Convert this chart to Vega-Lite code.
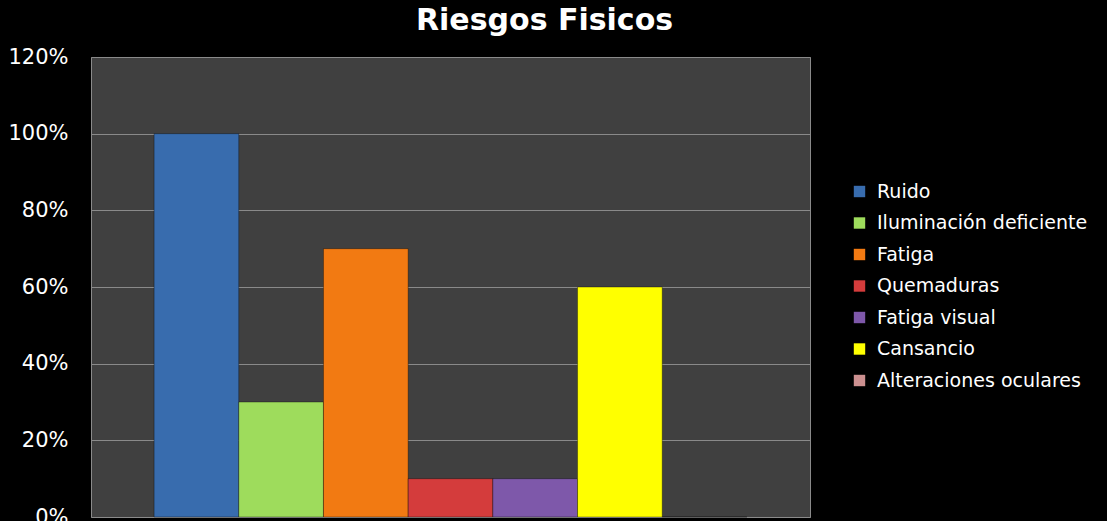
{
  "$schema": "https://vega.github.io/schema/vega-lite/v6.json",
  "width": 719,
  "height": 460,
  "autosize": {"type": "none"},
  "padding": {"left": 91, "top": 57, "right": 297, "bottom": 4},
  "background": "#000000",
  "title": {
    "text": "Riesgos Fisicos",
    "font": "DejaVu Sans",
    "fontSize": 30,
    "fontWeight": "bold",
    "color": "#ffffff",
    "anchor": "start",
    "dx": 408,
    "offset": -14,
    "baseline": "alphabetic"
  },
  "data": {
    "values": [
      {"riesgo": "Ruido", "valor": 1.0},
      {"riesgo": "Iluminación deficiente", "valor": 0.3},
      {"riesgo": "Fatiga", "valor": 0.7},
      {"riesgo": "Quemaduras", "valor": 0.1},
      {"riesgo": "Fatiga visual", "valor": 0.1},
      {"riesgo": "Cansancio", "valor": 0.6},
      {"riesgo": "Alteraciones oculares", "valor": 0.0}
    ]
  },
  "mark": {"type": "bar", "stroke": "#000000", "strokeOpacity": 0.35, "strokeWidth": 1},
  "encoding": {
    "x": {
      "field": "riesgo",
      "type": "nominal",
      "sort": null,
      "scale": {"paddingInner": 0, "paddingOuter": 0.745},
      "axis": null
    },
    "y": {
      "field": "valor",
      "type": "quantitative",
      "scale": {"domain": [0, 1.2], "nice": false},
      "axis": {
        "format": ".0%",
        "values": [0, 0.2, 0.4, 0.6, 0.8, 1.0, 1.2],
        "labelColor": "#ffffff",
        "labelFont": "DejaVu Sans",
        "labelFontSize": 21,
        "labelPadding": 23,
        "ticks": false,
        "domain": false,
        "gridColor": "#8a8a8a",
        "gridWidth": 1,
        "title": null
      }
    },
    "color": {
      "field": "riesgo",
      "type": "nominal",
      "sort": null,
      "scale": {
        "domain": ["Ruido", "Iluminación deficiente", "Fatiga", "Quemaduras", "Fatiga visual", "Cansancio", "Alteraciones oculares"],
        "range": ["#386cae", "#9edc5c", "#f27a12", "#d43c3c", "#7e58aa", "#ffff00", "#cc9090"]
      },
      "legend": {
        "orient": "none",
        "legendX": 759,
        "legendY": 125,
        "title": null,
        "symbolType": "square",
        "symbolSize": 130,
        "symbolStrokeWidth": 0,
        "labelColor": "#ffffff",
        "labelFont": "DejaVu Sans",
        "labelFontSize": 19,
        "labelOffset": 8,
        "rowPadding": 11.5,
        "labelLimit": 300
      }
    }
  },
  "config": {
    "view": {"fill": "#404040", "stroke": "#8a8a8a", "strokeWidth": 1}
  }
}
